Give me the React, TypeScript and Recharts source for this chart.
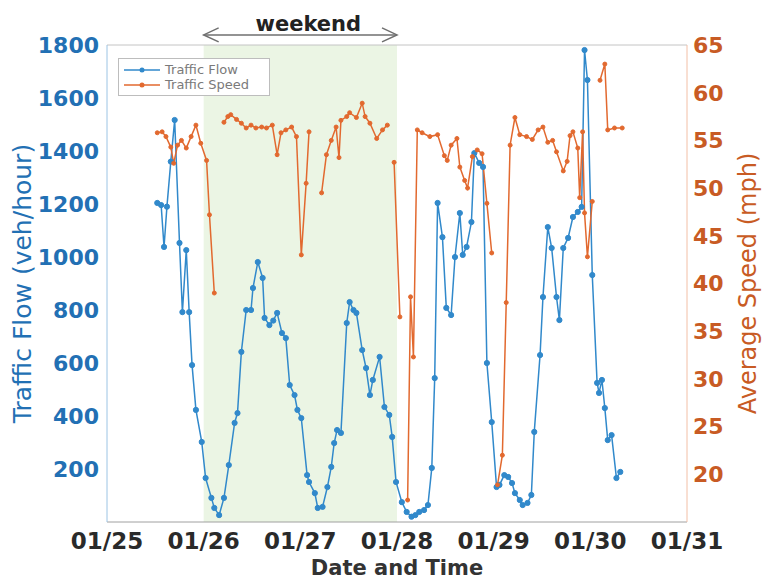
import React from "react";
import {
  Line,
  LineChart,
  ReferenceArea,
  ReferenceLine,
  XAxis,
  YAxis,
} from "recharts";

// time is the day of January (25.5 = 01/25 12:00)
const FLOW_TIME = [
  25.52, 25.56, 25.59, 25.62, 25.66, 25.7, 25.75, 25.78, 25.82, 25.85, 25.88, 25.92, 25.98,
  26.02, 26.08, 26.11, 26.16, 26.21, 26.26, 26.32, 26.35, 26.39, 26.44, 26.49, 26.51, 26.56,
  26.61, 26.63, 26.68, 26.72, 26.76, 26.81, 26.85, 26.89, 26.94, 26.97, 27.01, 27.07, 27.09,
  27.15, 27.18, 27.23, 27.28, 27.32, 27.35, 27.38, 27.42, 27.48, 27.51, 27.55, 27.58, 27.64,
  27.68, 27.72, 27.75, 27.82, 27.87, 27.92, 27.95, 27.99, 28.05, 28.1, 28.15, 28.19, 28.23,
  28.28, 28.32, 28.36, 28.39, 28.42, 28.47, 28.51, 28.56, 28.6, 28.65, 28.68, 28.72, 28.77,
  28.8, 28.85, 28.89, 28.93, 28.98, 29.03, 29.06, 29.11, 29.15, 29.19, 29.22, 29.27, 29.3,
  29.35, 29.39, 29.42, 29.48, 29.51, 29.56, 29.6, 29.65, 29.68, 29.72, 29.77, 29.82, 29.87,
  29.91, 29.94, 29.97, 30.02, 30.07, 30.09, 30.12, 30.15, 30.18, 30.22, 30.27, 30.31,
];
const FLOW_VALUES = [
  1204, 1196, 1038, 1190, 1360, 1517, 1053, 792, 1026, 792, 592, 423, 302,
  166, 91, 53, 26, 91, 215, 374, 411, 642, 800, 800, 883, 981,
  921, 770, 743, 760, 789, 713, 694, 517, 479, 423, 392, 177, 151,
  109, 53, 57, 132, 208, 298, 347, 336, 751, 830, 800, 789, 649,
  581, 479, 536, 623, 434, 404, 321, 151, 75, 38, 20, 26, 38,
  45, 64, 204, 543, 1204, 1075, 808, 781, 1000, 1166, 1008, 1038, 1132,
  1392, 1355, 1340, 600, 377, 132, 140, 177, 170, 147, 109, 83, 64,
  72, 102, 340, 630, 849, 1113, 1034, 849, 762, 1034, 1072, 1151, 1170,
  1189, 1781, 1668, 932, 525, 487, 536, 430, 309, 328, 166, 189,
];

// null = no speed reading, the line breaks there
const SPEED_TIME = [
  25.52, 25.57, 25.61, 25.66, 25.69, 25.73, 25.77, 25.82, 25.87, 25.92, 25.97, 26.03, 26.06,
  26.11, 26.16,
  26.21, 26.25, 26.28, 26.34, 26.39, 26.44, 26.49, 26.54, 26.6, 26.65, 26.71, 26.76, 26.8,
  26.85, 26.91, 26.96, 27.01, 27.06, 27.09, 27.15,
  27.22, 27.27, 27.32, 27.37, 27.4, 27.42, 27.48, 27.51, 27.58, 27.64, 27.67, 27.72, 27.79,
  27.85, 27.9, 27.93,
  27.97, 28.03, 28.06,
  28.11, 28.14, 28.17, 28.21, 28.26, 28.34, 28.42, 28.49, 28.52, 28.56, 28.62, 28.65, 28.7,
  28.73, 28.78, 28.83, 28.88, 28.93, 28.98, 29.0,
  29.04, 29.09, 29.13, 29.17, 29.22, 29.27, 29.34, 29.4, 29.46, 29.51, 29.56, 29.61, 29.65,
  29.72, 29.76, 29.79, 29.82, 29.87, 29.89, 29.92, 29.94, 29.97, 30.02, 30.05,
  30.1, 30.15, 30.18, 30.25, 30.33,
];
const SPEED_VALUES = [
  55.8, 55.9, 55.4, 54.3, 52.6, 54.5, 55.0, 54.2, 55.4, 56.6, 54.7, 52.9, 47.2,
  39.0, null,
  56.9, 57.5, 57.7, 57.2, 56.8, 56.3, 56.6, 56.3, 56.4, 56.3, 56.6, 53.5, 55.8,
  56.1, 56.4, 55.4, 43.0, 50.5, 55.9, null,
  49.5, 53.5, 55.0, 56.4, 53.2, 57.1, 57.5, 57.9, 57.4, 58.9, 57.5, 56.8, 55.2,
  56.1, 56.6, null,
  52.7, 36.5, null,
  17.3, 38.6, 32.3, 56.1, 55.8, 55.4, 55.6, 53.4, 52.9, 54.5, 55.2, 52.2, 50.8,
  50.0, 53.3, 54.0, 53.6, 48.4, 43.2, null,
  18.9, 22.0, 38.0, 54.5, 57.4, 55.6, 55.4, 55.1, 56.1, 56.4, 54.8, 55.0, 53.8,
  51.8, 52.8, 55.5, 55.9, 54.2, 49.0, 55.9, 47.4, 42.8, 48.6, null,
  61.3, 63.0, 56.1, 56.3, 56.3,
];

const DAY_TICKS = [25, 26, 27, 28, 29, 30, 31];
const FLOW_TICKS = [200, 400, 600, 800, 1000, 1200, 1400, 1600, 1800];
const SPEED_TICKS = [20, 25, 30, 35, 40, 45, 50, 55, 60, 65];
const WEEKEND = [26, 28];

const BLUE = "#3189cb";
const ORANGE = "#e2692f";
const BLUE_TEXT = "#2270b4";
const ORANGE_TEXT = "#c85b24";
const FONT = "'DejaVu Sans', Verdana, sans-serif";

const flowData = FLOW_TIME.map((t, i) => ({ t, v: FLOW_VALUES[i] }));
const speedData = SPEED_TIME.map((t, i) => ({ t, v: SPEED_VALUES[i] }));

// double-headed arrow with the "weekend" caption, drawn above the plot
function WeekendArrow(props: any) {
  const { x1, y1, x2 } = props;
  const c = "#6f6f6f";
  return (
    <g>
      <line x1={x1} y1={y1} x2={x2} y2={y1} stroke={c} strokeWidth={1.5} />
      <path d={`M${x1 + 15},${y1 - 7} L${x1},${y1} L${x1 + 15},${y1 + 7}`} fill="none" stroke={c} strokeWidth={1.5} />
      <path d={`M${x2 - 15},${y1 - 7} L${x2},${y1} L${x2 - 15},${y1 + 7}`} fill="none" stroke={c} strokeWidth={1.5} />
      <text
        x={(x1 + x2) / 2 + 8}
        y={y1 - 4}
        textAnchor="middle"
        fontFamily={FONT}
        fontWeight={700}
        fontSize={21}
        fill="#222"
      >
        weekend
      </text>
    </g>
  );
}

function LegendBox() {
  const row = (label: string, color: string) => (
    <div style={{ display: "flex", alignItems: "center", height: 15 }}>
      <svg width={40} height={10}>
        <line x1={2} y1={5} x2={38} y2={5} stroke={color} strokeWidth={1.5} />
        <circle cx={20} cy={5} r={2.5} fill={color} />
      </svg>
      <span style={{ marginLeft: 3 }}>{label}</span>
    </div>
  );
  return (
    <div
      style={{
        position: "absolute",
        left: 118,
        top: 58,
        width: 139,
        border: "1px solid #bdbdbd",
        background: "#fff",
        padding: "3px 8px 3px 3px",
        fontFamily: FONT,
        fontSize: 13,
        color: "#7a7a7a",
        lineHeight: "15px",
      }}
    >
      {row("Traffic Flow", BLUE)}
      {row("Traffic Speed", ORANGE)}
    </div>
  );
}

export default function App() {
  return (
    <div style={{ position: "absolute", left: 0, top: 0, width: 763, height: 582, background: "#fff" }}>
      <LineChart width={763} height={582} margin={{ top: 45, right: 5, bottom: 30, left: 5 }}>
        <ReferenceArea
          x1={WEEKEND[0]}
          x2={WEEKEND[1]}
          yAxisId="flow"
          fill="#ebf5e4"
          fillOpacity={1}
          stroke="none"
        />
        <XAxis
          type="number"
          dataKey="t"
          domain={[25, 31]}
          ticks={DAY_TICKS}
          allowDataOverflow
          tickFormatter={(d: number) => `01/${d}`}
          tick={{ fontFamily: FONT, fontWeight: 700, fontSize: 23, fill: "#2a2a2a" }}
          tickLine={false}
          tickMargin={5}
          height={30}
          stroke="#a0a0a0"
          label={{
            value: "Date and Time",
            position: "bottom",
            offset: 8,
            style: { fontFamily: FONT, fontWeight: 700, fontSize: 21, fill: "#333" },
          }}
        />
        <YAxis
          yAxisId="flow"
          orientation="left"
          domain={[0, 1800]}
          ticks={FLOW_TICKS}
          width={102}
          tickLine={false}
          tickMargin={2}
          stroke="#9cc4e4"
          tick={{ fontFamily: FONT, fontWeight: 700, fontSize: 22, fill: BLUE_TEXT }}
          label={{
            value: "Traffic Flow (veh/hour)",
            angle: -90,
            position: "center",
            dx: -34,
            style: { fontFamily: FONT, fontSize: 25, fill: BLUE_TEXT, textAnchor: "middle" },
          }}
        />
        <YAxis
          yAxisId="speed"
          orientation="right"
          domain={[15, 65]}
          ticks={SPEED_TICKS}
          width={71}
          tickLine={false}
          tickMargin={0}
          stroke="#f2bfa6"
          tick={{ fontFamily: FONT, fontWeight: 700, fontSize: 22, fill: ORANGE_TEXT }}
          label={{
            value: "Average Speed (mph)",
            angle: -90,
            position: "center",
            dx: 25,
            style: { fontFamily: FONT, fontSize: 24, fill: ORANGE_TEXT, textAnchor: "middle" },
          }}
        />
        <ReferenceLine yAxisId="flow" y={1800} stroke="#c4c4c4" />
        <ReferenceLine
          yAxisId="flow"
          ifOverflow="visible"
          segment={[
            { x: WEEKEND[0], y: 1838 },
            { x: WEEKEND[1], y: 1838 },
          ]}
          shape={WeekendArrow}
        />
        <Line
          yAxisId="flow"
          data={flowData}
          dataKey="v"
          name="Traffic Flow"
          stroke={BLUE}
          strokeWidth={1.5}
          dot={{ r: 2.6, fill: BLUE, stroke: BLUE, strokeWidth: 1 }}
          isAnimationActive={false}
        />
        <Line
          yAxisId="speed"
          data={speedData}
          dataKey="v"
          name="Traffic Speed"
          stroke={ORANGE}
          strokeWidth={1.5}
          dot={{ r: 2, fill: ORANGE, stroke: ORANGE, strokeWidth: 1 }}
          connectNulls={false}
          isAnimationActive={false}
        />
      </LineChart>
      <LegendBox />
    </div>
  );
}
